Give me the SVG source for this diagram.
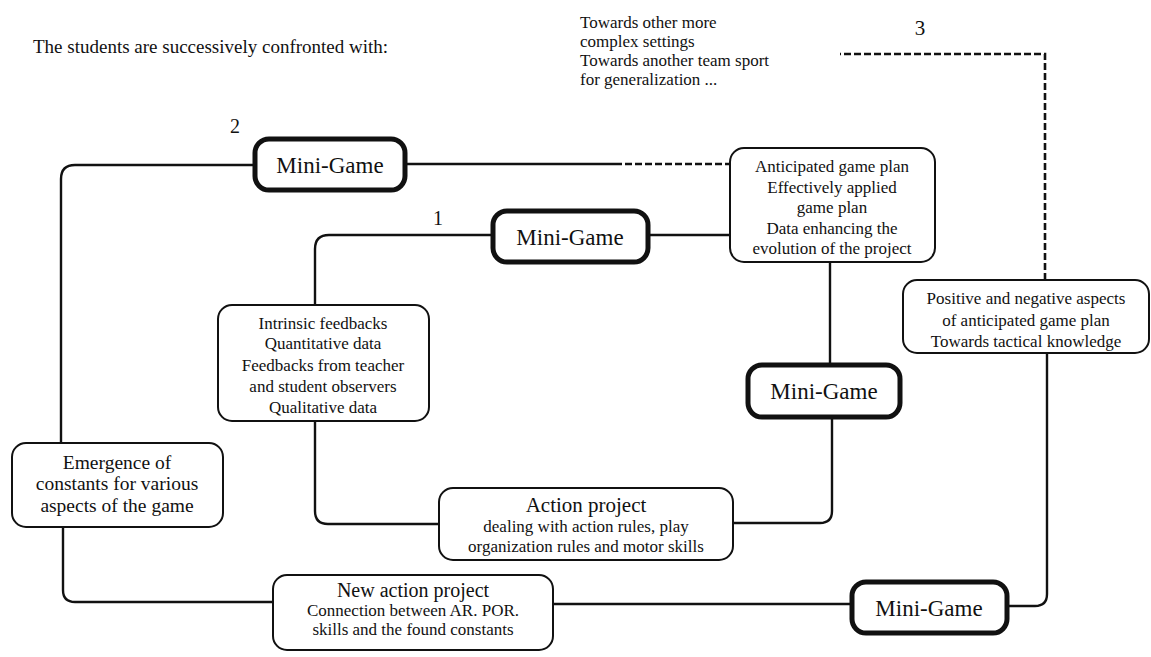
<svg xmlns="http://www.w3.org/2000/svg" width="1151" height="657" viewBox="0 0 1151 657">
<style>
text{font-family:"Liberation Serif","Times New Roman",serif;fill:#111;text-anchor:middle}
.l{text-anchor:start}
.box{fill:#fff;stroke:#111;stroke-width:2}
.mg{fill:#fff;stroke:#111;stroke-width:5}
.c{fill:none;stroke:#111;stroke-width:2.4}
.d{fill:none;stroke:#111;stroke-width:2.6;stroke-dasharray:7 3}
.s17{font-size:17px}
.mgt{font-size:23px}
</style>
<rect width="1151" height="657" fill="#fff"/>
<text class="l" x="33" y="53" font-size="19">The students are successively confronted with:</text>
<g id="note3">
<text class="l s17" x="580" y="28">Towards other more</text>
<text class="l s17" x="580" y="47">complex settings</text>
<text class="l s17" x="580" y="66">Towards another team sport</text>
<text class="l s17" x="580" y="85">for generalization ...</text>
</g>
<text x="920" y="35" font-size="21">3</text>
<text x="235" y="133" font-size="20">2</text>
<text x="438" y="225" font-size="20">1</text>
<g id="connectors">
<path class="c" d="M255 165 H75 Q61 165 61 179 V443"/>
<path class="c" d="M63 527 V590 Q63 602 75 602 H273"/>
<path class="c" d="M553 604 H852"/>
<path class="c" d="M1007 606 H1035 Q1047 606 1047 594 V353"/>
<path class="d" d="M1045 280 V54 H840"/>
<path class="c" d="M405 164 H615"/>
<path class="d" d="M615 164 H730"/>
<path class="c" d="M493 235 H329 Q315 235 315 249 V305"/>
<path class="c" d="M315 421 V511 Q315 524 328 524 H439"/>
<path class="c" d="M733 523 H820 Q832 523 832 511 V417"/>
<path class="c" d="M830 365 V262"/>
<path class="c" d="M648 235 H730"/>
</g>
<g id="mg2"><rect class="mg" x="255" y="139" width="150" height="51" rx="14"/><text class="mgt" x="330" y="173">Mini-Game</text></g>
<g id="mg1"><rect class="mg" x="493" y="211" width="155" height="51" rx="14"/><text class="mgt" x="570" y="245">Mini-Game</text></g>
<g id="mg3"><rect class="mg" x="748" y="365" width="152" height="52" rx="14"/><text class="mgt" x="824" y="399">Mini-Game</text></g>
<g id="mg4"><rect class="mg" x="852" y="582" width="155" height="51" rx="14"/><text class="mgt" x="929" y="616">Mini-Game</text></g>
<g id="anticipated"><rect class="box" x="730" y="148" width="205" height="114" rx="14"/>
<text class="s17" x="832" y="172">Anticipated game plan</text>
<text class="s17" x="832" y="193">Effectively applied</text>
<text class="s17" x="832" y="213">game plan</text>
<text class="s17" x="832" y="234">Data enhancing the</text>
<text class="s17" x="832" y="254">evolution of the project</text></g>
<g id="positive"><rect class="box" x="903" y="280" width="246" height="73" rx="14"/>
<text class="s17" x="1026" y="304">Positive and negative aspects</text>
<text class="s17" x="1026" y="326">of anticipated game plan</text>
<text class="s17" x="1026" y="347">Towards tactical knowledge</text></g>
<g id="intrinsic"><rect class="box" x="218" y="305" width="211" height="116" rx="14"/>
<text class="s17" x="323" y="329">Intrinsic feedbacks</text>
<text class="s17" x="323" y="349">Quantitative data</text>
<text class="s17" x="323" y="371">Feedbacks from teacher</text>
<text class="s17" x="323" y="392">and student observers</text>
<text class="s17" x="323" y="413">Qualitative data</text></g>
<g id="emergence"><rect class="box" x="12" y="443" width="211" height="84" rx="14"/>
<text font-size="19.5" x="117" y="469">Emergence of</text>
<text font-size="19.5" x="117" y="490">constants for various</text>
<text font-size="19.5" x="117" y="512">aspects of the game</text></g>
<g id="action"><rect class="box" x="439" y="488" width="294" height="72" rx="14"/>
<text font-size="21" x="586" y="512">Action project</text>
<text class="s17" x="586" y="532">dealing with action rules, play</text>
<text class="s17" x="586" y="552">organization rules and motor skills</text></g>
<g id="newaction"><rect class="box" x="273" y="575" width="280" height="75" rx="14"/>
<text font-size="20" x="413" y="597">New action project</text>
<text class="s17" x="413" y="616">Connection between AR. POR.</text>
<text class="s17" x="413" y="635">skills and the found constants</text></g>
</svg>
